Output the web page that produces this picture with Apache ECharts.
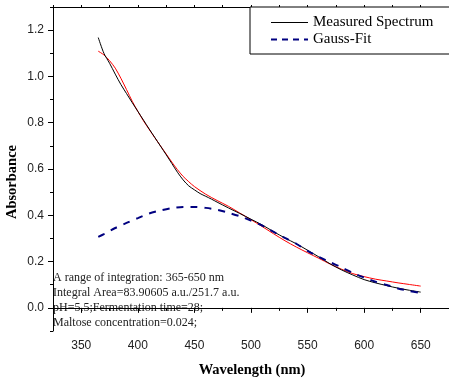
<!DOCTYPE html>
<html>
<head>
<meta charset="utf-8">
<script src="https://cdn.jsdelivr.net/npm/echarts@6/dist/echarts.min.js"></script>
<style>html,body{margin:0;padding:0;background:#fff;}#c{width:449px;height:381px;}</style>
</head>
<body>
<div id="c"></div>
<script>
// Measured spectrum
const measX = [365,370,375,380,385,390,395,400,405,410,415,420,425,430,435,440,445,450,455,460,465,470,480,490,500,510,520,530,540,550,560,570,580,590,600,610,620,630,640,650];
const measY = [1.168,1.100,1.057,1.010,0.965,0.926,0.887,0.849,0.811,0.773,0.736,0.699,0.662,0.624,0.586,0.553,0.527,0.510,0.494,0.482,0.470,0.457,0.432,0.408,0.383,0.358,0.329,0.302,0.277,0.249,0.220,0.190,0.164,0.142,0.122,0.108,0.096,0.085,0.076,0.068];
// Red fit curve
const fitX = [365,370,375,380,385,390,395,400,405,410,415,420,425,430,435,440,445,450,460,470,480,490,500,510,520,530,540,550,560,570,580,590,600,610,620,630,640,650];
const fitY = [1.109,1.093,1.068,1.036,0.992,0.943,0.893,0.849,0.808,0.771,0.735,0.700,0.665,0.630,0.597,0.568,0.545,0.524,0.491,0.464,0.439,0.410,0.381,0.351,0.320,0.290,0.263,0.238,0.214,0.189,0.167,0.148,0.135,0.124,0.116,0.108,0.101,0.094];
// Gauss fit
const gaussX = [365,370,380,390,400,410,420,430,440,450,460,470,480,490,500,510,520,530,540,550,560,570,580,590,600,610,620,630,640,648];
const gaussY = [0.307,0.319,0.345,0.367,0.388,0.408,0.421,0.431,0.436,0.436,0.432,0.424,0.411,0.396,0.377,0.355,0.328,0.302,0.277,0.246,0.220,0.197,0.175,0.151,0.131,0.113,0.099,0.084,0.073,0.066];

const xMajor = [350,400,450,500,550,600,650];
const xMinor = [325,375,425,475,525,575,625,675];
const xAll = [325,350,375,400,425,450,475,500,525,550,575,600,625,650,675];
const yMajor = [0.0,0.2,0.4,0.6,0.8,1.0,1.2];
const yMinor = [-0.1,0.1,0.3,0.5,0.7,0.9,1.1,1.3];

const seriesNames = ['Measured Spectrum','Gauss-Fit'];
const notes = [
  'A range of integration: 365-650 nm',
  'Integral Area=83.90605 a.u./251.7 a.u.',
  'pH=5.5;Fermentation time=28;',
  'Maltose concentration=0.024;'
];
const xTitle = 'Wavelength (nm)';
const yTitle = 'Absorbance';

const zip = (a,b) => a.map((v,i)=>[v,b[i]]);
const serif = '"Liberation Serif","Times New Roman",serif';
const sans = '"Liberation Sans",Arial,sans-serif';
const XMIN=325, XMAX=675, YMIN=-0.1, YMAX=1.3;

const chart = echarts.init(document.getElementById('c'), null, {renderer:'canvas'});
const axisLine = {show:true, lineStyle:{color:'#000', width:1}};
chart.setOption({
  animation:false,
  backgroundColor:'#fff',
  grid:{left:53, right:-1, top:7, bottom:50, containLabel:false},
  xAxis:[
    {type:'value', position:'bottom', min:XMIN, max:XMAX, axisLine:axisLine, splitLine:{show:false},
     axisTick:{show:true, customValues:xMajor, length:5, lineStyle:{color:'#000'}},
     axisLabel:{customValues:xMajor, margin:9, fontFamily:sans, fontSize:12, color:'#222'}},
    {type:'value', position:'bottom', min:XMIN, max:XMAX, axisLine:{show:false}, splitLine:{show:false},
     axisTick:{show:true, customValues:xMinor, length:3, lineStyle:{color:'#000'}},
     axisLabel:{show:false}},
    {type:'value', position:'top', min:XMIN, max:XMAX, axisLine:axisLine, splitLine:{show:false},
     axisTick:{show:true, customValues:xAll, length:2, lineStyle:{color:'#000'}},
     axisLabel:{show:false}}
  ],
  yAxis:[
    {type:'value', position:'left', min:YMIN, max:YMAX, axisLine:axisLine, splitLine:{show:false},
     axisTick:{show:true, customValues:yMajor, length:5, lineStyle:{color:'#000'}},
     axisLabel:{customValues:yMajor, margin:9, fontFamily:sans, fontSize:12, color:'#222', formatter:v=>v.toFixed(1)}},
    {type:'value', position:'left', min:YMIN, max:YMAX, axisLine:{show:false}, splitLine:{show:false},
     axisTick:{show:true, customValues:yMinor, length:3, lineStyle:{color:'#000'}},
     axisLabel:{show:false}}
  ],
  legend:{
    show:true,
    data:[
      {name:seriesNames[0], lineStyle:{width:1, color:'#000'}},
      {name:seriesNames[1], lineStyle:{width:2, color:'#000080', type:[6,5]}}
    ],
    orient:'vertical', left:250, top:7,
    itemWidth:37, itemHeight:12, itemGap:2, padding:[8,40,7,20],
    borderColor:'#000', borderWidth:1, borderRadius:0, backgroundColor:'#fff',
    itemStyle:{opacity:0},
    textStyle:{fontFamily:serif, fontSize:15, color:'#000'}
  },
  series:[
    {name:'fit', type:'line', data:zip(fitX,fitY), showSymbol:false, symbol:'none', smooth:0.3,
     lineStyle:{color:'#ff0000', width:1}, itemStyle:{color:'#ff0000'}},
    {name:seriesNames[0], type:'line', data:zip(measX,measY), showSymbol:false, symbol:'none', smooth:0.3,
     lineStyle:{color:'#000', width:1}, itemStyle:{color:'#000'}},
    {name:seriesNames[1], type:'line', data:zip(gaussX,gaussY), showSymbol:false, symbol:'none', smooth:0.3,
     lineStyle:{color:'#000080', width:2, type:[7,7]}, itemStyle:{color:'#000080'}}
  ],
  graphic:[
    {type:'text', x:12, y:182, rotation:Math.PI/2, style:{text:yTitle, font:'bold 14.5px '+serif, fill:'#000', align:'center', verticalAlign:'middle'}},
    {type:'text', x:252, y:370, style:{text:xTitle, font:'bold 14.5px '+serif, fill:'#000', align:'center', verticalAlign:'middle'}},
    ...notes.map((t,i)=>({type:'text', x:53, y:278+15*i, style:{text:t, font:'12px '+serif, fill:'#222', align:'left', verticalAlign:'middle'}}))
  ]
});
</script>
</body>
</html>
